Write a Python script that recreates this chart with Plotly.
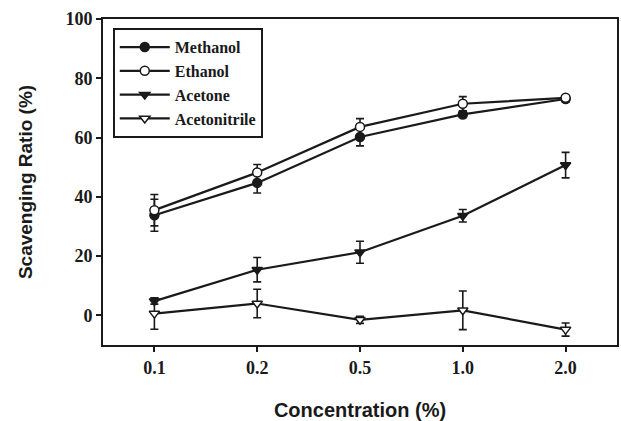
import plotly.graph_objects as go

categories = ["0.1", "0.2", "0.5", "1.0", "2.0"]
methanol = [33.8, 44.7, 60.2, 67.8, 73.0]
methanol_err = [5.4, 3.4, 3.0, 1.0, 1.0]
ethanol = [35.5, 48.2, 63.6, 71.4, 73.4]
ethanol_err = [5.3, 2.7, 2.8, 2.4, 0.5]
acetone = [4.8, 15.4, 21.3, 33.6, 50.7]
acetone_err = [1.0, 4.1, 3.7, 2.1, 4.3]
acetonitrile = [0.6, 4.0, -1.5, 1.7, -4.8]
acetonitrile_err = [5.3, 4.8, 1.2, 6.5, 2.2]

names = ["Methanol", "Ethanol", "Acetone", "Acetonitrile"]
values = [methanol, ethanol, acetone, acetonitrile]
errors = [methanol_err, ethanol_err, acetone_err, acetonitrile_err]
symbols = ["circle", "circle-open", "triangle-down", "triangle-down-open"]

fig = go.Figure()
for name, v, e, s in zip(names, values, errors, symbols):
    open_marker = s.endswith("open")
    fig.add_trace(go.Scatter(
        x=categories, y=v, name=name, mode="lines+markers",
        line=dict(color="#1a1a1a", width=2.2),
        marker=dict(symbol=s.replace("-open", ""), size=9,
                    color="white" if open_marker else "#1a1a1a",
                    line=dict(color="#1a1a1a", width=1.5)),
        error_y=dict(type="data", array=e, visible=True, color="#1a1a1a",
                     thickness=1.6, width=4),
    ))

fig.update_layout(
    width=621, height=421,
    margin=dict(l=103, r=2, t=19, b=76),
    paper_bgcolor="white", plot_bgcolor="white",
    showlegend=True,
    legend=dict(x=0.019, y=0.972, xanchor="left", yanchor="top",
                bordercolor="#1a1a1a", borderwidth=2, bgcolor="white",
                font=dict(family="Liberation Serif", size=16, color="#1a1a1a", weight="bold"),
                tracegroupgap=0, itemwidth=50),
    font=dict(color="#1a1a1a"),
)
fig.update_xaxes(
    type="category", range=[-0.5, 4.5],
    showline=True, linecolor="#1a1a1a", linewidth=2, mirror=True,
    ticks="outside", ticklen=5, tickwidth=1.5, tickcolor="#1a1a1a",
    showgrid=False, zeroline=False,
    tickfont=dict(family="Liberation Serif", size=18, color="#1a1a1a", weight="bold"),
    title=dict(text="<b>Concentration (%)</b>", standoff=26,
               font=dict(family="Liberation Sans", size=20, color="#1a1a1a")),
)
fig.update_yaxes(
    range=[-10, 100], tickvals=[0, 20, 40, 60, 80, 100],
    showline=True, linecolor="#1a1a1a", linewidth=2, mirror=True,
    ticks="outside", ticklen=5, tickwidth=1.5, tickcolor="#1a1a1a",
    showgrid=False, zeroline=False,
    tickfont=dict(family="Liberation Serif", size=18, color="#1a1a1a", weight="bold"),
    title=dict(text="<b>Scavenging Ratio (%)</b>", standoff=28,
               font=dict(family="Liberation Sans", size=19, color="#1a1a1a")),
)
fig.write_html("out.html", config={"displayModeBar": False},
               post_script="document.body.style.margin='0';")
